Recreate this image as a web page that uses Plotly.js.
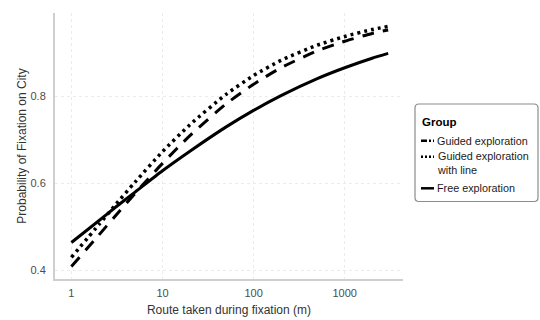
<!DOCTYPE html>
<html>
<head>
<meta charset="utf-8">
<script src="https://cdn.plot.ly/plotly-3.0.1.min.js"></script>
<style>html,body{margin:0;padding:0;background:#fff;}#chart{width:540px;height:320px;}</style>
</head>
<body>
<div id="chart"></div>
<script>
// Route taken during fixation (m)
var routeX = [1, 2, 3, 5, 10, 20, 50, 100, 200, 500, 1000, 2000, 3000];
// Probability of fixation on city
var guided = [0.409, 0.481, 0.524, 0.577, 0.646, 0.710, 0.783, 0.828, 0.866, 0.905, 0.927, 0.945, 0.953];
var guidedLine = [0.430, 0.505, 0.549, 0.603, 0.673, 0.735, 0.805, 0.848, 0.883, 0.918, 0.938, 0.954, 0.961];
var free = [0.464, 0.514, 0.544, 0.580, 0.629, 0.674, 0.730, 0.768, 0.802, 0.841, 0.866, 0.888, 0.899];
var groupNames = ["Guided exploration", "Guided exploration<br>with line", "Free exploration"];
var xTickVals = [1, 10, 100, 1000];
var xTickText = ["1", "10", "100", "1000"];
var yTickVals = [0.4, 0.6, 0.8];
var yTickText = ["0.4", "0.6", "0.8"];

var styles = [
  {dash: "12px,9px", width: 3},
  {dash: "3px,4px", width: 3.5},
  {dash: "solid", width: 3}
];
var series = [guided, guidedLine, free];

var traces = series.map(function (ys, i) {
  return {
    x: routeX, y: ys, type: "scatter", mode: "lines",
    name: groupNames[i],
    line: {color: "#000000", width: styles[i].width, dash: styles[i].dash, shape: "spline", smoothing: 0.6},
    showlegend: false, hoverinfo: "skip"
  };
});

// custom legend (paper coordinates relative to plot area)
var L = 55, R = 403, T = 13, B = 279;
function px(x) { return (x - L) / (R - L); }
function py(y) { return (B - y) / (B - T); }
var bx0 = px(415), bx1 = px(538), by0 = py(201.5), by1 = py(104);
var rx = 4 / (R - L), ry = 4 / (B - T);
var boxPath = "M " + (bx0 + rx) + "," + by1 +
  " L " + (bx1 - rx) + "," + by1 +
  " Q " + bx1 + "," + by1 + " " + bx1 + "," + (by1 - ry) +
  " L " + bx1 + "," + (by0 + ry) +
  " Q " + bx1 + "," + by0 + " " + (bx1 - rx) + "," + by0 +
  " L " + (bx0 + rx) + "," + by0 +
  " Q " + bx0 + "," + by0 + " " + bx0 + "," + (by0 + ry) +
  " L " + bx0 + "," + (by1 - ry) +
  " Q " + bx0 + "," + by1 + " " + (bx0 + rx) + "," + by1 + " Z";

var shapes = [{
  type: "path", xref: "paper", yref: "paper", path: boxPath,
  line: {color: "#8c8c8c", width: 1.2}, fillcolor: "rgba(255,255,255,0)"
}];
var entryY = [140.7, 156.7, 188.3];
var symDash = ["6px,2px,2px,2px", "2px,2px", "solid"];
entryY.forEach(function (yy, i) {
  shapes.push({
    type: "line", xref: "paper", yref: "paper",
    x0: px(421), x1: px(434), y0: py(yy), y1: py(yy),
    line: {color: "#000", width: 2.5, dash: symDash[i]}
  });
});

var annotations = [{
  xref: "paper", yref: "paper", x: px(420), y: py(122.5), xanchor: "left", yanchor: "middle",
  text: "<b>Group</b>", showarrow: false, font: {family: "Liberation Sans, Arial, sans-serif", size: 11.5, color: "#000"}
}];
var entryTextY = [140.7, 163.3, 188.3];
groupNames.forEach(function (n, i) {
  annotations.push({
    xref: "paper", yref: "paper", x: px(435), y: py(entryTextY[i]), xanchor: "left", yanchor: "middle",
    align: "left", text: n, showarrow: false,
    font: {family: "Liberation Sans, Arial, sans-serif", size: 10.8, color: "#1a1a1a"}
  });
});

var layout = {
  width: 540, height: 320,
  margin: {l: L, r: 540 - R, t: T, b: 320 - B, pad: 0},
  paper_bgcolor: "#ffffff", plot_bgcolor: "#ffffff",
  font: {family: "Liberation Sans, Arial, sans-serif", size: 11, color: "#4d4d4d"},
  showlegend: false,
  xaxis: {
    type: "log", range: [-0.18, 3.64],
    tickvals: xTickVals, ticktext: xTickText,
    showline: true, linecolor: "#cfcfcf", linewidth: 2,
    showgrid: true, gridcolor: "#ebebeb", gridwidth: 1, griddash: "dot",
    zeroline: false, ticks: "", ticklabelstandoff: 3,
    tickfont: {size: 11, color: "#4d4d4d"},
    title: {text: "Route taken during fixation (m)", font: {size: 12, color: "#333333"}, standoff: 7}
  },
  yaxis: {
    range: [0.380, 0.992],
    tickvals: yTickVals, ticktext: yTickText,
    showline: true, linecolor: "#cfcfcf", linewidth: 2,
    showgrid: true, gridcolor: "#ebebeb", gridwidth: 1, griddash: "dot",
    zeroline: false, ticks: "", ticklabelstandoff: 5,
    tickfont: {size: 11, color: "#4d4d4d"},
    title: {text: "Probability of Fixation on City", font: {size: 12, color: "#333333"}, standoff: 1}
  },
  shapes: shapes,
  annotations: annotations
};

Plotly.newPlot("chart", traces, layout, {staticPlot: true, displayModeBar: false});
</script>
</body>
</html>
